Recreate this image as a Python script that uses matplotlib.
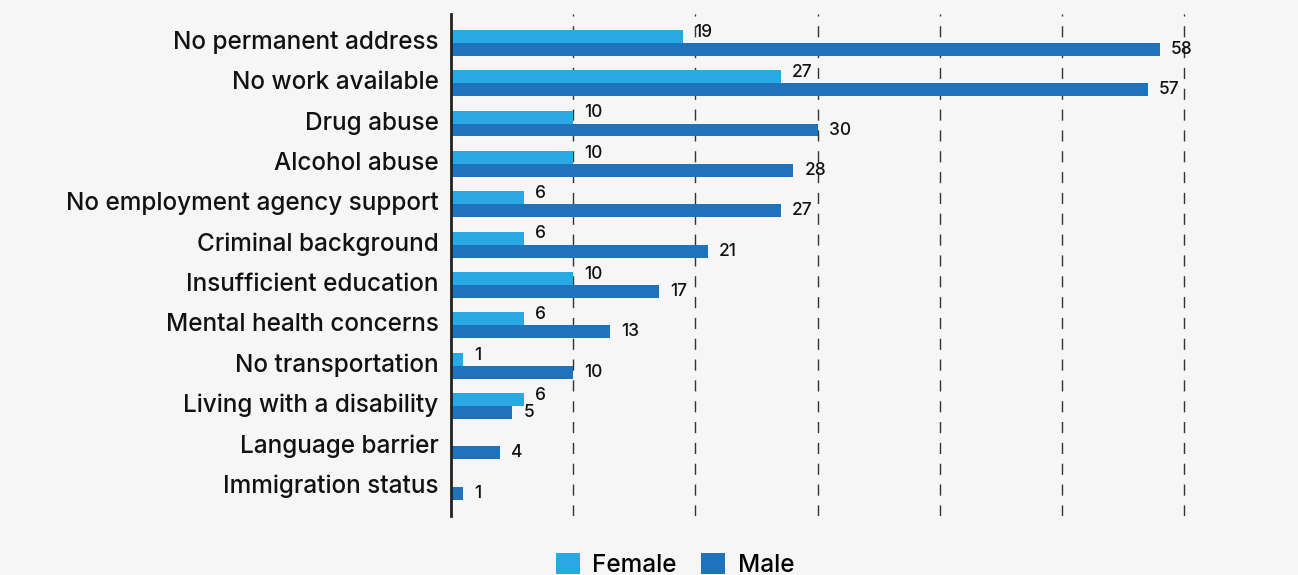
import matplotlib
matplotlib.use('Agg')
import matplotlib.pyplot as plt
import numpy as np

categories = [
    "No permanent address", "No work available", "Drug abuse", "Alcohol abuse",
    "No employment agency support", "Criminal background", "Insufficient education",
    "Mental health concerns", "No transportation", "Living with a disability",
    "Language barrier", "Immigration status",
]
female = [19, 27, 10, 10, 6, 6, 10, 6, 1, 6, None, None]
male = [58, 57, 30, 28, 27, 21, 17, 13, 10, 5, 4, 1]

c_female = '#29a9e1'
c_male = '#1f73bb'
bg = '#f6f6f6'

plt.rcParams['font.family'] = ['Inter', 'DejaVu Sans']
plt.rcParams['font.weight'] = 500

fig = plt.figure(figsize=(12.98, 5.75), dpi=100, facecolor=bg)
ax = fig.add_axes([0.3475, 0.103, 0.6525, 0.873])
ax.set_facecolor(bg)

y = np.arange(len(categories))
h = 0.32
fv = [v if v is not None else 0 for v in female]
fb = ax.barh(y - h / 2, fv, height=h, color=c_female, label='Female', zorder=3)
mb = ax.barh(y + h / 2, male, height=h, color=c_male, label='Male', zorder=3)

for i, v in enumerate(female):
    if v is None:
        continue
    ax.annotate(str(v), (v, y[i] - h / 2), xytext=(8, 3), textcoords='offset points',
                va='center', ha='left', fontsize=12.5, color='#111111')
for i, v in enumerate(male):
    ax.annotate(str(v), (v, y[i] + h / 2), xytext=(8, 0), textcoords='offset points',
                va='center', ha='left', fontsize=12.5, color='#111111')

ax.set_xlim(0, 69.3)
ax.set_ylim(11.72, -0.72)
ax.set_xticks([10, 20, 30, 40, 50, 60])
ax.xaxis.grid(True, color='#333333', linestyle=(0, (8, 7)), linewidth=1.0, zorder=1)
ax.tick_params(axis='x', length=0, labelbottom=False)
# labels sit a little above the group centre in the original
ax.set_yticks(y - 0.07)
ax.set_yticklabels(categories, fontsize=17.5, color='#111111')
ax.tick_params(axis='y', length=0, pad=9)

for s in ['top', 'right', 'bottom']:
    ax.spines[s].set_visible(False)
ax.spines['left'].set_color('#222222')
ax.spines['left'].set_linewidth(2)
ax.spines['left'].set_zorder(4)

fig.legend(handles=[fb, mb], loc='center', bbox_to_anchor=(0.52, 0.018), ncol=2,
           frameon=False, fontsize=17.5, handlelength=1.0, handleheight=1.0,
           handletextpad=0.5, columnspacing=1.0)

fig.savefig('out.png', dpi=100, facecolor=bg)
